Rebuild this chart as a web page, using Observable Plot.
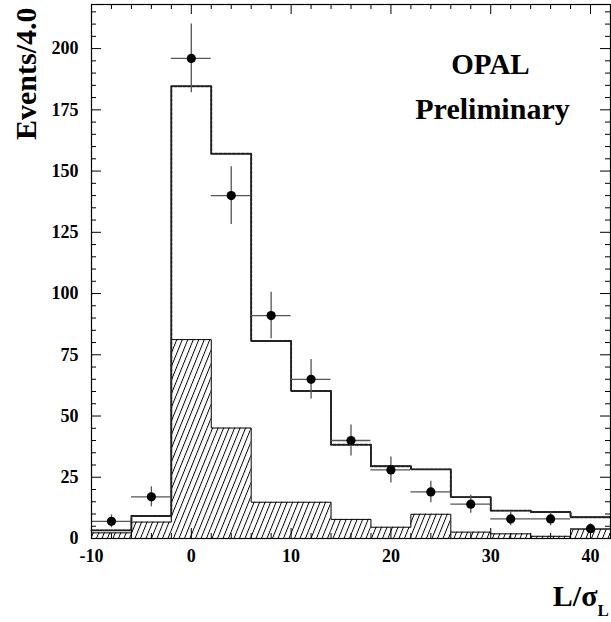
<!DOCTYPE html>
<html>
<head>
<meta charset="utf-8">
<script src="https://cdn.jsdelivr.net/npm/d3@7"></script>
<script src="https://cdn.jsdelivr.net/npm/@observablehq/plot@0.6"></script>
<style>
  html, body { margin: 0; padding: 0; background: #fff; }
</style>
</head>
<body>
<div id="chart"></div>
<script>
// ---- data ----
const binCenters = [-8, -4, 0, 4, 8, 12, 16, 20, 24, 28, 32, 36, 40];
const dataCounts = [7, 17, 196, 140, 91, 65, 40, 28, 19, 14, 8, 8, 4];
const dataErrors = [2.6, 4.1, 14, 11.8, 9.5, 8.1, 6.3, 5.3, 4.4, 3.7, 2.8, 2.8, 2];
const mcTotal = [3.3, 9.2, 184.6, 157.1, 80.6, 60.2, 38.3, 29.5, 28.2, 16.9, 11.4, 10.8, 8.7];
const background = [2.3, 6.7, 81.2, 45.1, 14.8, 14.8, 7.8, 4.6, 9.9, 2.6, 1.9, 0.9, 3.8];
const xTicks = [-10, 0, 10, 20, 30, 40];
const yTicks = [0, 25, 50, 75, 100, 125, 150, 175, 200];
const halfBin = 2;
const xDomain = [-10, 42];
const yDomain = [0, 218];

// ---- derived tables ----
const bins = binCenters.map((c, i) => ({
  x1: c - halfBin, x2: c + halfBin, c, n: dataCounts[i], e: dataErrors[i],
  mc: mcTotal[i], bg: background[i]
}));
const steps = bins.map(b => ({x: b.x1, mc: b.mc, bg: b.bg}));
steps.push({x: bins[bins.length - 1].x2, mc: mcTotal[mcTotal.length - 1], bg: background[background.length - 1]});

const xMinor = d3.range(-10, 43, 2).filter(v => !xTicks.includes(v));
const yMinor = d3.range(0, 216, 5).filter(v => !yTicks.includes(v));

const W = 611, H = 622;
const mL = 91, mR = 1, mT = 4, mB = 84;
const pw = W - mL - mR, ph = H - mT - mB;
const font = "'Liberation Serif', 'Times New Roman', serif";

const chart = Plot.plot({
  width: W, height: H,
  marginLeft: mL, marginRight: mR, marginTop: mT, marginBottom: mB,
  style: {fontFamily: font, fontWeight: "bold", fontSize: "18px", background: "#fff", color: "black"},
  x: {domain: xDomain, ticks: xTicks, tickSize: 0, tickPadding: 11, label: null, tickFormat: d => String(d)},
  y: {domain: yDomain, ticks: yTicks, tickSize: 0, tickPadding: 13, label: null, tickFormat: d => String(d)},
  marks: [
    // hatched background
    Plot.rect(bins, {x1: "x1", x2: "x2", y1: () => 0, y2: "bg", fill: "url(#hatch)"}),
    Plot.line(steps, {x: "x", y: "bg", curve: "step-after", stroke: "black", strokeWidth: 1}),
    // total MC (solid + dashed overlay)
    Plot.line(steps, {x: "x", y: "mc", curve: "step-after", stroke: "black", strokeWidth: 1.3}),
    Plot.line(steps, {x: "x", y: "mc", curve: "step-after", stroke: "#222", strokeWidth: 1.9, strokeDasharray: "3,1.5"}),
    // data error bars
    Plot.ruleX(bins, {x: "c", y1: d => d.n - d.e, y2: d => d.n + d.e, stroke: "#555", strokeWidth: 1.3}),
    Plot.ruleY(bins, {y: "n", x1: "x1", x2: "x2", stroke: "#555", strokeWidth: 1.3}),
    Plot.dot(bins, {x: "c", y: "n", r: 4.6, fill: "black", stroke: "none"}),
    // inward ticks (ROOT style)
    Plot.tickY(yTicks, {y: d => d, insetRight: pw - 10, stroke: "black"}),
    Plot.tickY(yMinor, {y: d => d, insetRight: pw - 5, stroke: "black"}),
    Plot.tickY(yTicks, {y: d => d, insetLeft: pw - 10, stroke: "black"}),
    Plot.tickY(yMinor, {y: d => d, insetLeft: pw - 5, stroke: "black"}),
    Plot.tickX(xTicks, {x: d => d, insetBottom: ph - 10, stroke: "black"}),
    Plot.tickX(xMinor, {x: d => d, insetBottom: ph - 5, stroke: "black"}),
    Plot.tickX(xTicks, {x: d => d, insetTop: ph - 10, stroke: "black"}),
    Plot.tickX(xMinor, {x: d => d, insetTop: ph - 5, stroke: "black"}),
    Plot.frame({stroke: "black", strokeWidth: 1.2}),
    // texts
    Plot.text(["Events/4.0"], {frameAnchor: "top-left", rotate: -90, textAnchor: "end", lineAnchor: "bottom",
      dx: -56, dy: 3, fontSize: 30, fontWeight: "bold", fill: "black"}),
    Plot.text(["OPAL"], {frameAnchor: "top-right", textAnchor: "middle", lineAnchor: "bottom",
      dx: -120, dy: 69, fontSize: 29, fontWeight: "bold", fill: "black"}),
    Plot.text(["Preliminary"], {frameAnchor: "top-right", textAnchor: "middle", lineAnchor: "bottom",
      dx: -118, dy: 114, fontSize: 30, fontWeight: "bold", fill: "black"}),
    Plot.text(["L/σ"], {frameAnchor: "bottom-right", textAnchor: "end", lineAnchor: "bottom",
      dx: -13, dy: 67, fontSize: 30, fontWeight: "bold", fill: "black"}),
    Plot.text(["L"], {frameAnchor: "bottom-right", textAnchor: "start", lineAnchor: "bottom",
      dx: -13, dy: 77, fontSize: 17, fontWeight: "bold", fill: "black"})
  ]
});

// hatch pattern definition
const svgNS = "http://www.w3.org/2000/svg";
const defs = document.createElementNS(svgNS, "defs");
defs.innerHTML = `<pattern id="hatch" patternUnits="userSpaceOnUse" width="5.5" height="12" patternTransform="skewX(-22)">
  <line x1="0.5" y1="0" x2="0.5" y2="12" stroke="black" stroke-width="1"/>
</pattern>`;
chart.insertBefore(defs, chart.firstChild);

document.getElementById("chart").appendChild(chart);
</script>
</body>
</html>
